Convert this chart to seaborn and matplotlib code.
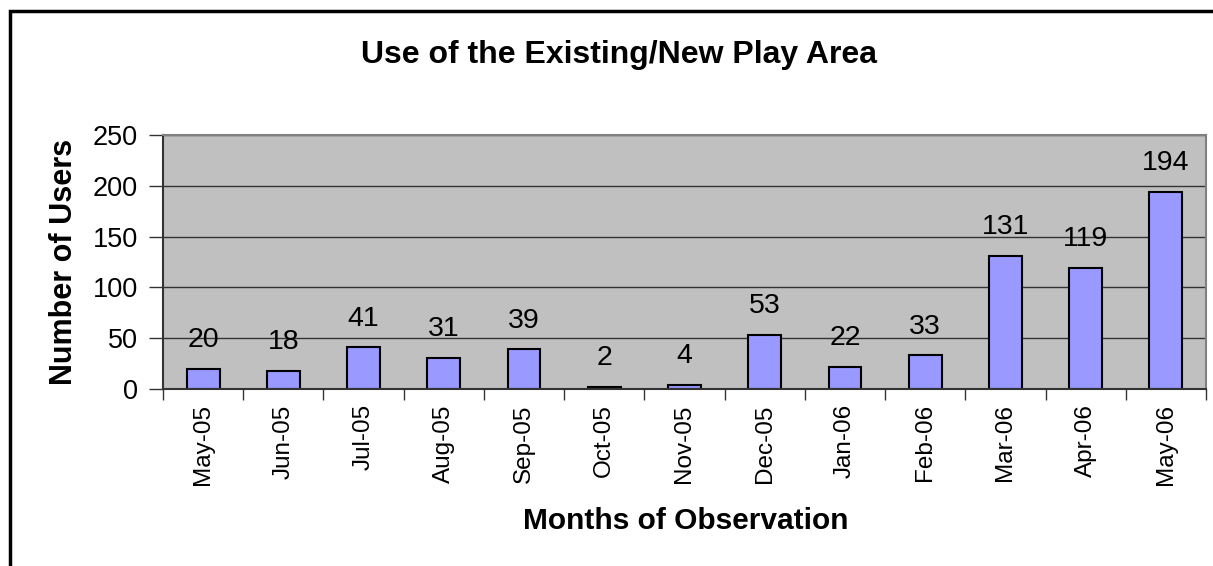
import matplotlib
matplotlib.use("Agg")
import matplotlib.pyplot as plt
import seaborn as sns
import pandas as pd
from matplotlib.patches import Rectangle

months = ["May-05", "Jun-05", "Jul-05", "Aug-05", "Sep-05", "Oct-05", "Nov-05",
          "Dec-05", "Jan-06", "Feb-06", "Mar-06", "Apr-06", "May-06"]
users = [20, 18, 41, 31, 39, 2, 4, 53, 22, 33, 131, 119, 194]

df = pd.DataFrame({"Month": months, "Users": users})

sns.set_style("white")
plt.rcParams["font.family"] = ["Liberation Sans", "DejaVu Sans"]
plt.rcParams["text.color"] = "black"
plt.rcParams["axes.labelcolor"] = "black"
plt.rcParams["xtick.color"] = "black"
plt.rcParams["ytick.color"] = "black"

fig = plt.figure(figsize=(12.13, 5.66), dpi=100)
ax = fig.add_axes([0.1344, 0.3127, 0.8598, 0.4488])
ax.set_facecolor("#c0c0c0")

sns.barplot(data=df, x="Month", y="Users", color="#9999ff", width=0.41,
            edgecolor="black", linewidth=1.5, saturation=1, ax=ax)

for i, v in enumerate(users):
    ax.text(i, v + 15.5, str(v), ha="center", va="bottom", fontsize=20.5,
            color="black")

ax.set_ylim(0, 250)
ax.set_xlim(-0.5, len(months) - 0.5)
ax.set_yticks(range(0, 251, 50))
ax.yaxis.grid(True, color="#333333", linewidth=1)
ax.set_axisbelow(True)
ax.tick_params(axis="y", labelsize=19.5, length=10, width=1, color="#333333",
               labelcolor="black", left=True, pad=8)
ax.set_xticks(range(len(months)))
ax.set_xticklabels(months, rotation=90, fontsize=17.5, color="black")
ax.set_xticks([i - 0.5 for i in range(len(months) + 1)], minor=True)
ax.tick_params(axis="x", which="major", length=0, pad=11)
ax.tick_params(axis="x", which="minor", length=8, width=1, color="#333333",
               bottom=True)

for side in ["top", "right"]:
    ax.spines[side].set_color("#808080")
    ax.spines[side].set_linewidth(1.5)
for side in ["left", "bottom"]:
    ax.spines[side].set_color("#333333")
    ax.spines[side].set_linewidth(1.5)

ax.set_xlabel("")
ax.set_ylabel("Number of Users", fontsize=22, fontweight="bold", labelpad=10,
              color="black")
fig.text(0.5655, 0.0795, "Months of Observation", fontsize=21.5,
         fontweight="bold", ha="center", va="center", color="black")
fig.text(0.5107, 0.903, "Use of the Existing/New Play Area", fontsize=23,
         fontweight="bold", ha="center", va="center", color="black")

fig.patches.append(Rectangle((10 / 1213, -0.1), 1.2, 1 - 11 / 566 + 0.1,
                             transform=fig.transFigure, fill=False,
                             edgecolor="black", linewidth=2.5))

fig.savefig("out.png", dpi=100)
